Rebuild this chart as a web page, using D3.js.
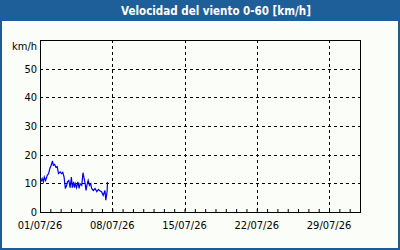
<!doctype html>
<html lang="es">
<head>
<meta charset="utf-8">
<title>Velocidad del viento</title>
<style>
html, body { margin: 0; padding: 0; background: #fbfdf9; overflow: hidden; }
svg { display: block; font-family: Tahoma, "DejaVu Sans Condensed", "Noto Sans", sans-serif; }
</style>
</head>
<body>
<div id="chart"></div>
<script src="https://cdnjs.cloudflare.com/ajax/libs/d3/7.8.5/d3.min.js"></script>
<script>
// hours since 01/07/26 00:00 and wind speed in km/h
var hours = [2, 5, 8, 10, 13, 17, 20, 23, 26, 29, 31, 34, 37, 40, 43, 47, 50, 53, 56, 59,
  62, 64, 67, 70, 73, 75, 78, 80, 82, 85, 88, 91, 93, 97, 100, 102, 105, 107, 109, 112,
  115, 118, 120, 124, 128, 132, 136, 139, 143, 147, 151, 153, 156, 157];
var speed = [10.5, 11.7, 10.5, 12.2, 11, 12.8, 13.4, 15.2, 16.3, 17.8, 16.3, 16.6, 15.6, 15.8, 13.4, 14, 13.4, 13.8, 12.2, 8.2,
  9.3, 10.5, 11, 8.5, 12.2, 8.5, 10.5, 8.5, 9.9, 8.5, 10.5, 8.2, 9.9, 9.3, 13.7, 12.2, 9.9, 7.5, 9.3, 11,
  9.3, 9.9, 8.2, 7.5, 8.2, 7.1, 7.9, 7.4, 7.1, 5.8, 7.5, 4.1, 7.1, 10.5];
var yTicks = [0, 10, 20, 30, 40, 50];
var xLabels = ['01/07/26', '08/07/26', '15/07/26', '22/07/26', '29/07/26'];
var title = 'Velocidad del viento 0-60 [km/h]';
var unit = 'km/h';

var W = 400, H = 250;
var m = { left: 40, right: 40, top: 40, bottom: 38 };
var start = new Date(2026, 6, 1), end = new Date(2026, 7, 1);
var parse = d3.timeParse('%d/%m/%y');

var svg = d3.select('#chart').append('svg').attr('width', W).attr('height', H);

var x = d3.scaleTime().domain([start, end]).range([m.left, W - m.right]);
var y = d3.scaleLinear().domain([0, 60]).range([H - m.bottom, m.top]);

// frame + title bar
svg.append('rect').attr('x', 1).attr('y', 1).attr('width', W - 2).attr('height', H - 2)
  .attr('fill', '#fbfdf9').attr('stroke', '#1e5b92').attr('stroke-width', 2);
svg.append('rect').attr('x', 0).attr('y', 0).attr('width', W).attr('height', 21).attr('fill', '#1e5e99');
svg.append('text').attr('x', 216).attr('y', 15).attr('text-anchor', 'middle')
  .attr('fill', '#fff').attr('font-weight', 'bold').attr('font-size', 11.5).text(title);

// grid
var grid = svg.append('g').attr('stroke', '#000').attr('stroke-dasharray', '3,3').attr('shape-rendering', 'crispEdges');
grid.selectAll('line.h').data(yTicks.slice(1)).enter().append('line')
  .attr('x1', x.range()[0]).attr('x2', x.range()[1])
  .attr('y1', function (d) { return Math.round(y(d)) + 0.5; })
  .attr('y2', function (d) { return Math.round(y(d)) + 0.5; });
grid.selectAll('line.v').data(xLabels.slice(1)).enter().append('line')
  .attr('x1', function (d) { return Math.round(x(parse(d))) + 0.5; })
  .attr('x2', function (d) { return Math.round(x(parse(d))) + 0.5; })
  .attr('y1', y.range()[1]).attr('y2', y.range()[0]);

// axes
var xAxis = d3.axisTop(x).ticks(d3.timeDay.every(1)).tickSize(3).tickFormat('');
svg.append('g').attr('transform', 'translate(0,' + (H - m.bottom) + ')').call(xAxis)
  .call(function (g) { g.select('.domain').remove(); g.selectAll('line').attr('stroke', '#000'); });

svg.append('rect').attr('x', m.left + 0.5).attr('y', m.top + 0.5)
  .attr('width', W - m.left - m.right).attr('height', H - m.top - m.bottom)
  .attr('fill', 'none').attr('stroke', '#000').attr('shape-rendering', 'crispEdges');

svg.selectAll('text.yl').data(yTicks).enter().append('text')
  .attr('x', m.left - 3).attr('y', function (d) { return y(d) + 4; })
  .attr('text-anchor', 'end').attr('font-size', 11).attr('fill', '#000')
  .text(function (d) { return d; });
svg.append('text').attr('x', m.left - 3).attr('y', 50).attr('text-anchor', 'end')
  .attr('font-size', 11).attr('fill', '#000').text(unit);

svg.selectAll('text.xl').data(xLabels).enter().append('text')
  .attr('x', function (d) { return x(parse(d)); }).attr('y', 229)
  .attr('text-anchor', 'middle').attr('font-size', 11).attr('fill', '#000')
  .text(function (d) { return d; });

// series
var pts = hours.map(function (h, i) { return [d3.timeHour.offset(start, h), speed[i]]; });
var line = d3.line().x(function (d) { return x(d[0]); }).y(function (d) { return y(d[1]); });
svg.append('path').datum(pts).attr('d', line).attr('fill', 'none')
  .attr('stroke', '#0000ee').attr('stroke-width', 1.2);
</script>
</body>
</html>
